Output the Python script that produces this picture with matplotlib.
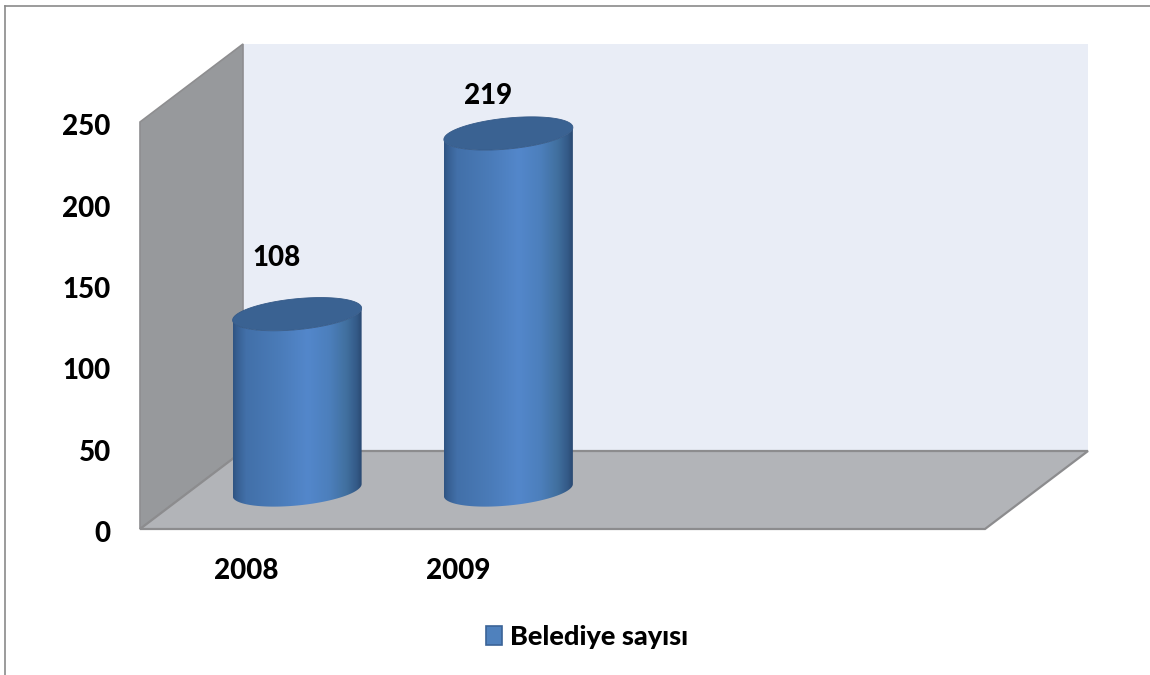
import numpy as np
import matplotlib
matplotlib.use("Agg")
import matplotlib.pyplot as plt
from matplotlib.colors import LinearSegmentedColormap
from matplotlib.lines import Line2D
from matplotlib.patches import Patch, PathPatch, Polygon
from matplotlib.path import Path
from matplotlib.transforms import ScaledTranslation

# ---- data ----
years = ["2008", "2009"]
empty_slots = ["", ""]
belediye_sayisi = [108, 219]
y_ticks = [0, 50, 100, 150, 200, 250]
series_name = "Belediye sayısı"

# ---- layout (pixels in a 1150x675 canvas) ----
W, H = 1150, 675
L, R, T, B = 140, 985, 122, 529
DEPTH_X, DEPTH_Y = 103, 78
BAR_SHIFT_X, BAR_SHIFT_Y = 51.5, 39
BAR_HALF, ELL_B, ELL_TILT = 64.5, 15.5, 6.0
LABEL_SHIFT_X = 31
LABEL_SHIFT_Y = [95, 76]
TEXT_W = 900

plt.rcParams["font.family"] = ["Lato", "DejaVu Sans"]
plt.rcParams["font.weight"] = TEXT_W

fig = plt.figure(figsize=(W / 100, H / 100), dpi=100, facecolor="white")
ax = fig.add_axes([L / W, 1 - B / H, (R - L) / W, (B - T) / H])
ax.patch.set_visible(False)

cats = years + empty_slots
ax.set_xlim(-0.5, len(cats) - 0.5)
ax.set_ylim(0, 250)
ux = (R - L) / len(cats)      # px per category
uy = (B - T) / 250            # px per value unit
dx, dy = DEPTH_X / ux, DEPTH_Y / uy
x0, x1 = ax.get_xlim()
y0, y1 = ax.get_ylim()

# ---- walls ----
ax.add_patch(Polygon([(x0 + dx, y0 + dy), (x1 + dx, y0 + dy), (x1 + dx, y1 + dy), (x0 + dx, y1 + dy)],
                     closed=True, fc="#E9EDF6", ec="none", clip_on=False, zorder=1))
ax.add_patch(Polygon([(x0, y0), (x0, y1), (x0 + dx, y1 + dy), (x0 + dx, y0 + dy)],
                     closed=True, fc="#97999C", ec="#8E8E90", lw=1.2, clip_on=False, zorder=2))
ax.add_patch(Polygon([(x0, y0), (x1, y0), (x1 + dx, y0 + dy), (x0 + dx, y0 + dy)],
                     closed=True, fc="#B2B4B8", ec="#8C8C8E", lw=1.6, clip_on=False, zorder=3))

# ---- cylinders ----
body_cmap = LinearSegmentedColormap.from_list(
    "cyl",
    [(0.00, "#2F5482"), (0.03, "#375F92"), (0.10, "#4270A9"), (0.35, "#4A7BB8"),
     (0.58, "#5387CB"), (0.75, "#4C7FBC"), (0.88, "#41709F"), (0.96, "#345A88"), (1.00, "#2A4A72")])
t = np.linspace(0, 2 * np.pi, 181)
half = np.linspace(np.pi, 0, 91)   # lower (front) half, left to right


def ellipse(cx, cy, tt):
    """Sheared ellipse around (cx, cy) in data coordinates."""
    ex = cx + BAR_HALF * np.cos(tt) / ux
    ey = cy + (ELL_TILT * np.cos(tt) - ELL_B * np.sin(tt)) / uy
    return ex, ey


for i, value in enumerate(belediye_sayisi):
    cx = i + BAR_SHIFT_X / ux
    base = BAR_SHIFT_Y / uy
    top = base + value
    bx, by = ellipse(cx, base, half)
    tx, ty = ellipse(cx, top, half)
    verts = np.column_stack([np.r_[bx, tx[::-1]], np.r_[by, ty[::-1]]])
    body = Path(np.vstack([verts, verts[0]]), closed=True)
    im = ax.imshow(np.linspace(0, 1, 256)[None, :], cmap=body_cmap, aspect="auto",
                   extent=[cx - BAR_HALF / ux, cx + BAR_HALF / ux, base - 20, top + 20],
                   zorder=5, interpolation="bilinear")
    patch = PathPatch(body, transform=ax.transData, fc="none", ec="none")
    ax.add_patch(patch)
    im.set_clip_path(patch)
    ex, ey = ellipse(cx, top, t)
    ax.add_patch(Polygon(np.column_stack([ex, ey]), closed=True, fc="#3A6292",
                         ec="#355A88", lw=0.6, clip_on=False, zorder=6))
    ax.annotate(str(value), xy=(i, value), xytext=(LABEL_SHIFT_X * 0.72, LABEL_SHIFT_Y[i] * 0.72),
                textcoords="offset points", ha="center", va="center",
                fontsize=20, fontweight=TEXT_W, color="black", zorder=8,
                annotation_clip=False)
ax.set_xlim(x0, x1)
ax.set_ylim(y0, y1)

# ---- axes text ----
for s in ax.spines.values():
    s.set_visible(False)
ax.set_yticks(y_ticks)
ax.set_xticks(range(len(years)))
ax.set_xticklabels(years)
ax.tick_params(axis="both", length=0, labelsize=20, colors="black")
ax.tick_params(axis="y", pad=21)
ax.tick_params(axis="x", pad=21)
for lab in ax.get_yticklabels():
    lab.set_transform(lab.get_transform() + ScaledTranslation(0, -2.0 / 72, fig.dpi_scale_trans))
for lab in ax.get_xticklabels():
    lab.set_transform(lab.get_transform() + ScaledTranslation(0.7 / 72, 0, fig.dpi_scale_trans))

# ---- legend ----
ax.legend(handles=[Patch(fc="#4F81BD", ec="#3B6497", lw=1.2, label=series_name)],
          loc="center", bbox_to_anchor=(587 / W, 1 - 637 / H), bbox_transform=fig.transFigure,
          frameon=False, handlelength=0.59, handleheight=0.66, handletextpad=0.32,
          prop={"size": 19.5, "weight": TEXT_W})

# ---- outer frame (top and left only) ----
frame_c = "#8A8A8A"
fig.add_artist(Line2D([5 / W, 5 / W], [0, 1 - 5.5 / H], color=frame_c, lw=1.2))
fig.add_artist(Line2D([5 / W, 1], [1 - 5.5 / H, 1 - 5.5 / H], color=frame_c, lw=1.2))

fig.savefig("out.png", dpi=100)
